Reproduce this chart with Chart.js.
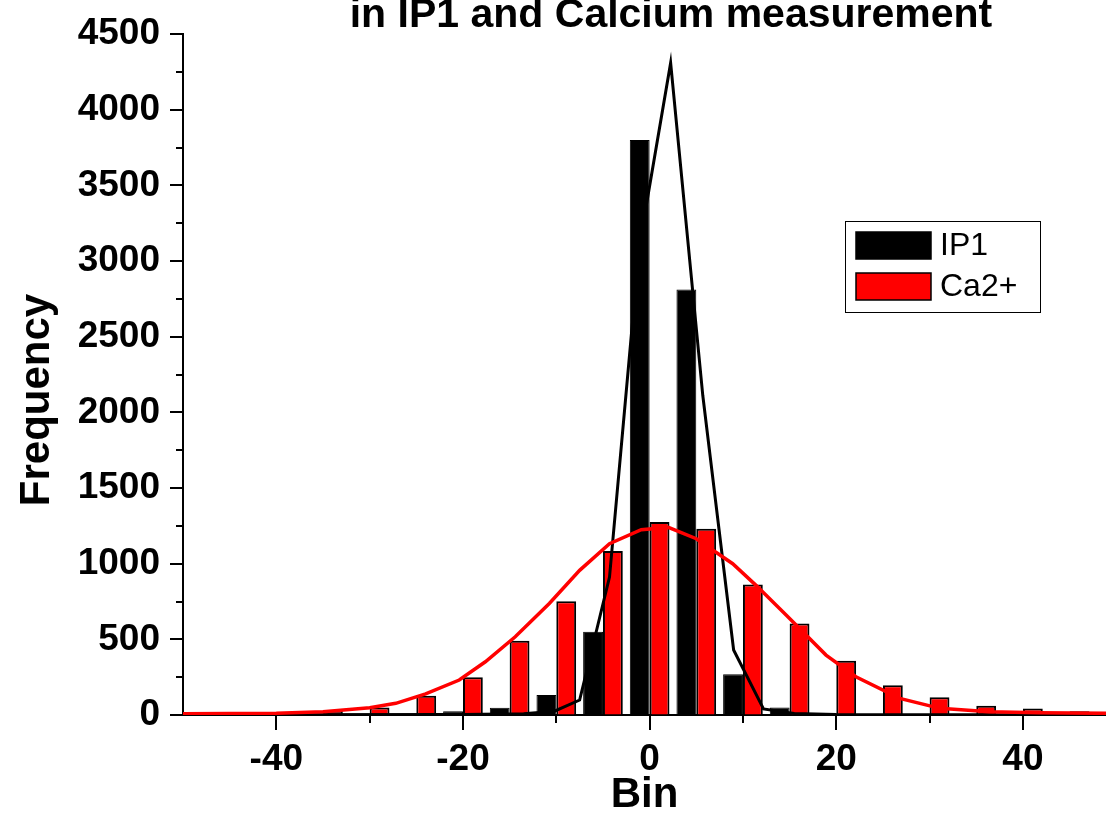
<!DOCTYPE html>
<html>
<head>
<meta charset="utf-8">
<script src="https://cdn.jsdelivr.net/npm/chart.js@4/dist/chart.umd.min.js"></script>
<style>
	html, body { margin: 0; padding: 0; background: #fff; }
	#wrap { width: 1106px; height: 816px; }
</style>
</head>
<body>
<div id="wrap"><canvas id="chart" width="1106" height="816"></canvas></div>
<script>
// histogram bins (bin centres) and counts
const binCenters = [-45, -40, -35, -30, -25, -20, -15, -10, -5, 0, 5, 10, 15, 20, 25, 30, 35, 40, 45];
const ip1Counts = [0, 0, 2, 5, 4, 24, 48, 133, 550, 3800, 2812, 270, 50, 9, 2, 1, 0, 0, 0];
const ca2Counts = [3, 6, 28, 50, 127, 249, 490, 752, 1084, 1275, 1231, 863, 605, 358, 196, 117, 61, 43, 24];

// fitted curves (as drawn)
const ip1FitX = [-50, -20, -13.5, -10.2, -7.5, -4.3, -1.1, 2.25, 5.7, 9.0, 12.2, 15.5, 20, 49];
const ip1FitY = [2, 3, 8, 25, 99, 912, 3100, 4310, 2110, 430, 40, 10, 3, 2];
const ca2FitX = [-50, -40, -35, -30, -27.2, -24, -20.4, -17.6, -14.4, -10.75, -7.5, -4.3, -0.9, 2.0, 5.0, 8.9, 11.4, 14.65, 18.9, 22.1, 26.8, 31.1, 36.4, 41.8, 49];
const ca2FitY = [8, 12, 22, 48, 77, 140, 231, 352, 517, 737, 956, 1132, 1225, 1240, 1165, 1000, 857, 660, 396, 253, 110, 44, 22, 15, 11];

// axis ticks (labelled every 20 on x, every 500 on y)
const xTickValues = [-40, -30, -20, -10, 0, 10, 20, 30, 40];
const xTickLabels = ["-40", "", "-20", "", "0", "", "20", "", "40"];

const titleText = "in IP1 and Calcium measurement";
const yTitleText = "Frequency";
const fontFamily = '"Liberation Sans", Arial, sans-serif';

function toPoints(xs, ys) {
	return xs.map((x, i) => ({ x: x, y: ys[i] }));
}

// title is cut off at the top of the picture, and the y title sits a bit low,
// so both are drawn by hand
const handTitles = {
	id: "handTitles",
	afterDraw(chart) {
		const ctx = chart.ctx;
		ctx.save();
		ctx.fillStyle = "#000";
		ctx.font = "bold 41px " + fontFamily;
		ctx.textAlign = "center";
		ctx.textBaseline = "alphabetic";
		ctx.fillText(titleText, 671, 27);

		ctx.font = "bold 42px " + fontFamily;
		ctx.textBaseline = "middle";
		ctx.translate(37, 400);
		ctx.rotate(-Math.PI / 2);
		ctx.fillText(yTitleText, 0, 0);
		ctx.restore();
	},
};

// major/minor tick marks (long where there is a label, short otherwise)
const tickMarks = {
	id: "tickMarks",
	afterDraw(chart) {
		const ctx = chart.ctx;
		const xs = chart.scales.x;
		const ys = chart.scales.y;
		const area = chart.chartArea;
		ctx.save();
		ctx.strokeStyle = "#000";
		ctx.lineWidth = 2;
		ctx.beginPath();
		xs.ticks.forEach((t, i) => {
			const px = Math.round(xs.getPixelForValue(t.value));
			const len = xTickLabels[i] ? 15 : 8;
			ctx.moveTo(px, area.bottom);
			ctx.lineTo(px, area.bottom + len);
		});
		ys.ticks.forEach((t) => {
			const py = Math.round(ys.getPixelForValue(t.value));
			const len = t.value % 500 === 0 ? 13 : 7;
			ctx.moveTo(area.left, py);
			ctx.lineTo(area.left - len, py);
		});
		ctx.stroke();
		ctx.restore();
	},
};

// boxed legend inside the plot
const boxLegend = {
	id: "boxLegend",
	afterDraw(chart) {
		const ctx = chart.ctx;
		const bx = 845, by = 221, bw = 195, bh = 91;
		ctx.save();
		ctx.fillStyle = "#fff";
		ctx.fillRect(bx, by, bw, bh);
		ctx.strokeStyle = "#000";
		ctx.lineWidth = 1;
		ctx.strokeRect(bx + 0.5, by + 0.5, bw, bh);
		const bars = chart.data.datasets.filter((d) => d.type !== "line");
		ctx.font = "32px " + fontFamily;
		ctx.textBaseline = "middle";
		bars.forEach((d, i) => {
			const sy = by + 11 + i * 41;
			ctx.fillStyle = d.backgroundColor;
			ctx.fillRect(bx + 11, sy, 75, 27);
			ctx.lineWidth = 1.5;
			ctx.strokeStyle = "#000";
			ctx.strokeRect(bx + 11, sy, 75, 27);
			ctx.fillStyle = "#000";
			ctx.fillText(d.label, bx + 95, sy + 14);
		});
		ctx.restore();
	},
};

const ctx = document.getElementById("chart").getContext("2d");
new Chart(ctx, {
	type: "bar",
	data: {
		datasets: [
			{
				label: "IP1",
				data: toPoints(binCenters, ip1Counts),
				backgroundColor: "#000000",
				borderColor: "#000000",
				borderWidth: 1,
				categoryPercentage: 0.85,
				barPercentage: 1.0,
				order: 2,
			},
			{
				label: "Ca2+",
				data: toPoints(binCenters, ca2Counts),
				backgroundColor: "#ff0000",
				borderColor: "#000000",
				borderWidth: 2,
				categoryPercentage: 0.85,
				barPercentage: 1.0,
				order: 2,
			},
			{
				type: "line",
				label: "IP1 fit",
				data: toPoints(ip1FitX, ip1FitY),
				borderColor: "#000000",
				borderWidth: 3,
				pointRadius: 0,
				tension: 0,
				order: 1,
			},
			{
				type: "line",
				label: "Ca2+ fit",
				data: toPoints(ca2FitX, ca2FitY),
				borderColor: "#ff0000",
				borderWidth: 3.5,
				pointRadius: 0,
				tension: 0,
				order: 0,
			},
		],
	},
	options: {
		responsive: false,
		animation: false,
		layout: { padding: { top: 33, right: 0, left: 0, bottom: 0 } },
		plugins: {
			legend: { display: false },
			title: { display: false },
			tooltip: { enabled: false },
		},
		scales: {
			x: {
				type: "linear",
				min: -50,
				max: 48.9,
				offset: false,
				grid: {
					offset: false,
					drawOnChartArea: false,
					drawTicks: true,
					tickLength: 13,
					tickColor: "rgba(0,0,0,0)",
				},
				border: { color: "#000", width: 2 },
				afterBuildTicks: (scale) => {
					scale.ticks = xTickValues.map((v) => ({ value: v }));
				},
				ticks: {
					autoSkip: false,
					maxRotation: 0,
					padding: 10,
					color: "#000",
					font: { family: fontFamily, size: 37, weight: "bold" },
					callback: (v, i) => xTickLabels[i],
				},
				title: {
					display: true,
					text: "Bin",
					color: "#000",
					font: { family: fontFamily, size: 42, weight: "bold", lineHeight: 1 },
					padding: { top: 0, bottom: 0 },
				},
				afterFit: (scale) => {
					scale.height = 101;
				},
			},
			y: {
				min: 0,
				max: 4500,
				grid: { drawOnChartArea: false, drawTicks: true, tickLength: 11, tickColor: "rgba(0,0,0,0)" },
				border: { color: "#000", width: 2 },
				ticks: {
					stepSize: 250,
					autoSkip: false,
					padding: 12,
					color: "#000",
					font: { family: fontFamily, size: 37, weight: "bold" },
					callback: (v) => (v % 500 === 0 ? String(v) : ""),
				},
				title: { display: false },
				afterFit: (scale) => {
					scale.width = 183;
				},
			},
		},
	},
	plugins: [handTitles, tickMarks, boxLegend],
});
</script>
</body>
</html>
